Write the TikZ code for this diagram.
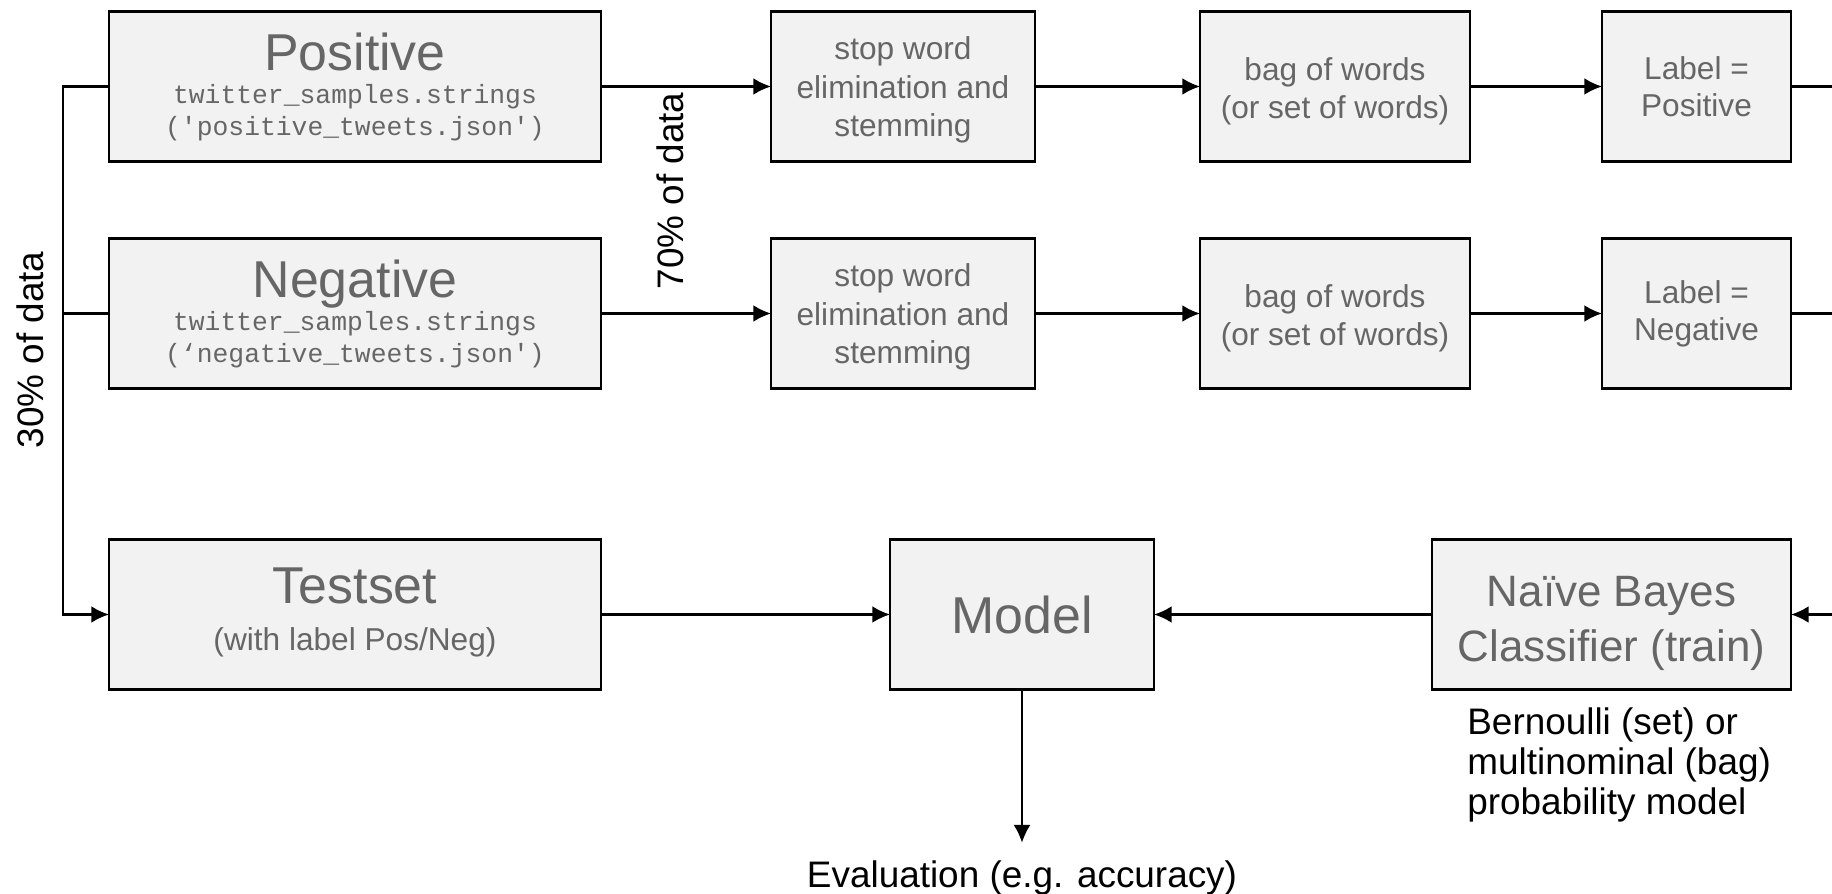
\documentclass[tikz,border=0pt]{standalone}
\usepackage{fontspec}
\setmainfont{Liberation Sans}
\setmonofont{Liberation Mono}
\usetikzlibrary{positioning}
\usetikzlibrary{arrows.meta}

\definecolor{boxfill}{HTML}{F2F2F2}
\definecolor{boxtext}{HTML}{666666}
\newcommand{\headfont}{\rmfamily\fontsize{29.5}{34}\selectfont}
\newcommand{\bodyfont}{\fontsize{18}{22}\selectfont}
\newcommand{\labfont}{\fontsize{18}{21.2}\selectfont}
\newcommand{\nbfont}{\fontsize{25}{31}\selectfont}
\newcommand{\codefont}{\ttfamily\fontsize{15}{18}\selectfont}
\newcommand{\notefont}{\fontsize{21}{22.6}\selectfont}
\newcommand{\tallstrut}[1]{\rule{0pt}{#1}}
\newcommand{\deepstrut}[1]{\rule[-#1]{0pt}{#1}}

\begin{document}
\begin{tikzpicture}[
        box/.style={draw=black, line width=1.2pt, fill=boxfill, text=boxtext, align=center, minimum height=3cm, outer sep=0pt, inner sep=2pt},
        srcbox/.style={box, minimum width=9.84cm},
        stepbox/.style={box, minimum width=5.28cm, font=\bodyfont},
        bagbox/.style={box, minimum width=5.4cm, font=\bodyfont},
        labelbox/.style={box, minimum width=3.78cm, font=\labfont},
        note/.style={text=black, font=\notefont, inner sep=0pt},
        link/.style={line width=1.2pt},
        flow/.style={link, -{Latex[length=10pt,width=9.5pt]}}
    ]
        \useasboundingbox (0,0) rectangle (36.64,-17.88);

        \node[srcbox, font=\codefont] (pos) at (7.1,-1.73) {{\headfont Positive}\\[1pt]twitter\_samples.strings\\(\textquotesingle positive\_tweets.json\textquotesingle)};
        \node[srcbox, font=\codefont, below=1.54cm of pos] (neg) {{\headfont Negative}\\[1pt]twitter\_samples.strings\\(‘negative\_tweets.json\textquotesingle)};
        \node[srcbox, font=\bodyfont, below=3.02cm of neg] (test) {{\headfont Testset}\\[5pt](with label Pos/Neg)\deepstrut{6pt}};

        \node[stepbox, right=3.4cm of pos] (stopp) {\tallstrut{17pt}stop word\\elimination and\\stemming};
        \node[bagbox, right=3.3cm of stopp] (bagp) {\tallstrut{18.5pt}bag of words\\(or set of words)};
        \node[labelbox, right=2.64cm of bagp] (labp) {Label =\\Positive};

        \node[stepbox, right=3.4cm of neg] (stopn) {\tallstrut{17pt}stop word\\elimination and\\stemming};
        \node[bagbox, right=3.3cm of stopn] (bagn) {\tallstrut{18.5pt}bag of words\\(or set of words)};
        \node[labelbox, right=2.64cm of bagn] (labn) {Label =\\Negative};

        \node[box, minimum width=5.28cm, font=\headfont, right=5.78cm of test] (model) {Model};
        \node[box, minimum width=7.18cm, font=\nbfont, right=5.56cm of model] (nb) {\tallstrut{27.5pt}Naïve Bayes\\Classifier (train)};

        \node[note, rotate=90] (pct70) at (13.4,-3.82) {70\% of data};
        \node[note, rotate=90] (pct30) at (0.6,-7.0) {30\% of data};
        \node[note, align=left, below right=0.36cm and 0.7cm of nb.south west] (nbnote) {Bernoulli (set) or\\multinominal (bag)\\probability model};

        \coordinate (split) at (1.26,-1.73);
        \coordinate (rim) at (36.64,0);
        \coordinate[below=3.06cm of model.south] (evalpt);
        \node[note, below=0.36cm of evalpt] (eval) {Evaluation (e.g. accuracy)};

        \draw[flow] (pos.west) -- (split) |- (test.west);
        \draw[link] (neg.west) -- (neg.west -| split);
        \draw[flow] (pos) -- (stopp);
        \draw[flow] (stopp) -- (bagp);
        \draw[flow] (bagp) -- (labp);
        \draw[link] (labp) -- (labp -| rim);
        \draw[flow] (neg) -- (stopn);
        \draw[flow] (stopn) -- (bagn);
        \draw[flow] (bagn) -- (labn);
        \draw[link] (labn) -- (labn -| rim);
        \draw[flow] (nb -| rim) -- (nb);
        \draw[flow] (nb) -- (model);
        \draw[flow] (test) -- (model);
        \draw[flow, line width=0.7pt] (model) -- (evalpt);
    \end{tikzpicture}
\end{document}
